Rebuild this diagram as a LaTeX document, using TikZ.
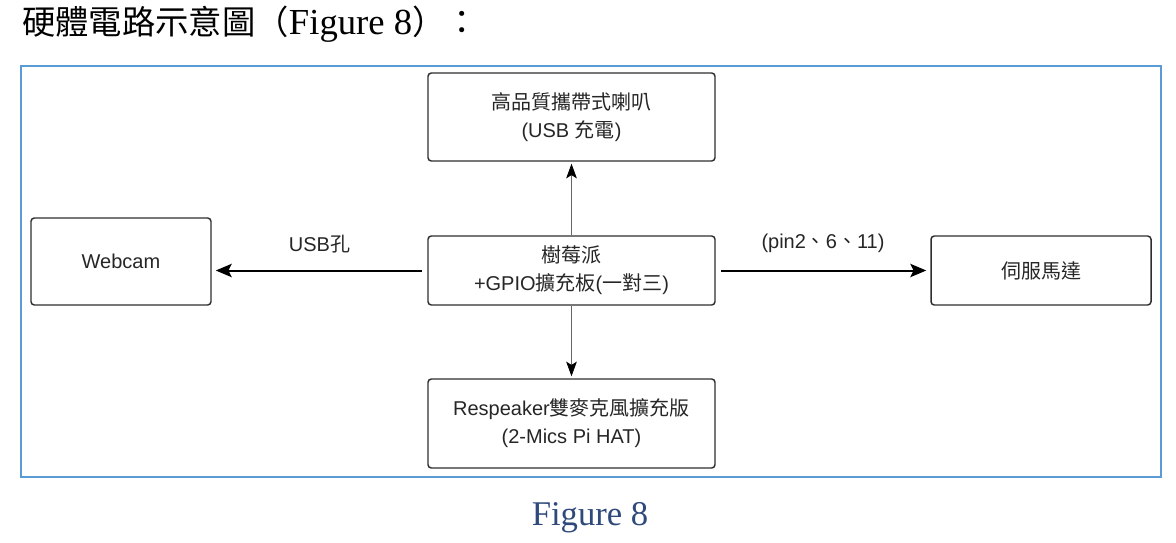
\documentclass[tikz,border=0pt]{standalone}
\usepackage{fontspec}
\setmainfont{Liberation Serif}
\setsansfont{Liberation Sans}
\newfontfamily\cjk{Noto Sans CJK TC}
\usetikzlibrary{arrows.meta}
\definecolor{framebl}{HTML}{5B9BD5}
\definecolor{capbl}{HTML}{2F4A7A}
\definecolor{boxgr}{HTML}{2E2E2E}
\begin{document}
\begin{tikzpicture}
        [x=0.75pt,y=-0.75pt,
        part/.style={rectangle,draw=boxgr,line width=1.1pt,rounded corners=2.5pt,inner sep=0pt,align=center,
            font=\sffamily\fontsize{15}{21}\selectfont,text=black!85},
        link/.style={line width=1.5pt,-{Stealth[length=12pt,width=10pt,inset=2.5pt]},shorten <=4pt,shorten >=3pt},
        thin link/.style={line width=0.6pt,draw=black!60,-{Stealth[length=11pt,width=8pt,inset=2.5pt,color=black]},
            shorten >=1.5pt},
        tag/.style={font=\sffamily\fontsize{15}{18}\selectfont,text=black!85},
        ]
        \useasboundingbox (0,0) rectangle (1176,542);
        % title and frame
        \node[anchor=base west,inner sep=0pt,font=\fontsize{25}{30}\selectfont] (title) at (22, 35)
            {{\cjk 硬體電路示意圖（}{\fontsize{27.5}{30}\selectfont Figure 8}{\cjk ）：}};
        \draw[framebl,line width=1.5pt] (21, 66) rectangle (1161, 477);
        % parts
        \node[part,minimum width=215.25pt,minimum height=51.75pt] (rpi) at (571.5, 270.5)
            {{\cjk 樹莓派}\\+GPIO{\cjk 擴充板}({\cjk 一對三})};
        \node[part,minimum width=215.25pt,minimum height=66pt] (speaker) at (571.5, 117)
            {{\cjk 高品質攜帶式喇叭}\\(USB {\cjk 充電})};
        \node[part,minimum width=215.25pt,minimum height=66.75pt] (mic) at (571.5, 423.5)
            {Respeaker{\cjk 雙麥克風擴充版}\\(2-Mics Pi HAT)};
        \node[part,minimum width=135pt,minimum height=65.25pt] (webcam) at (121, 261.5) {Webcam};
        \node[part,minimum width=165pt,minimum height=51.75pt] (servo) at (1041, 270.5) {{\cjk 伺服馬達}};
        % connectors
        \draw[link] (rpi.west) -- node[tag,above=9pt] (usb) {USB{\cjk 孔}} (webcam.east |- rpi.west);
        \draw[link] (rpi.east) -- node[tag,above=9pt] (pins) {(pin2{\cjk 、}6{\cjk 、}11)} (servo.west);
        \draw[thin link] (rpi.north) -- (speaker.south);
        \draw[thin link] (rpi.south) -- (mic.north);
        % caption
        \node[text=capbl,font=\fontsize{26}{30}\selectfont] (caption) at (590, 518) {Figure 8};
\end{tikzpicture}
\end{document}
